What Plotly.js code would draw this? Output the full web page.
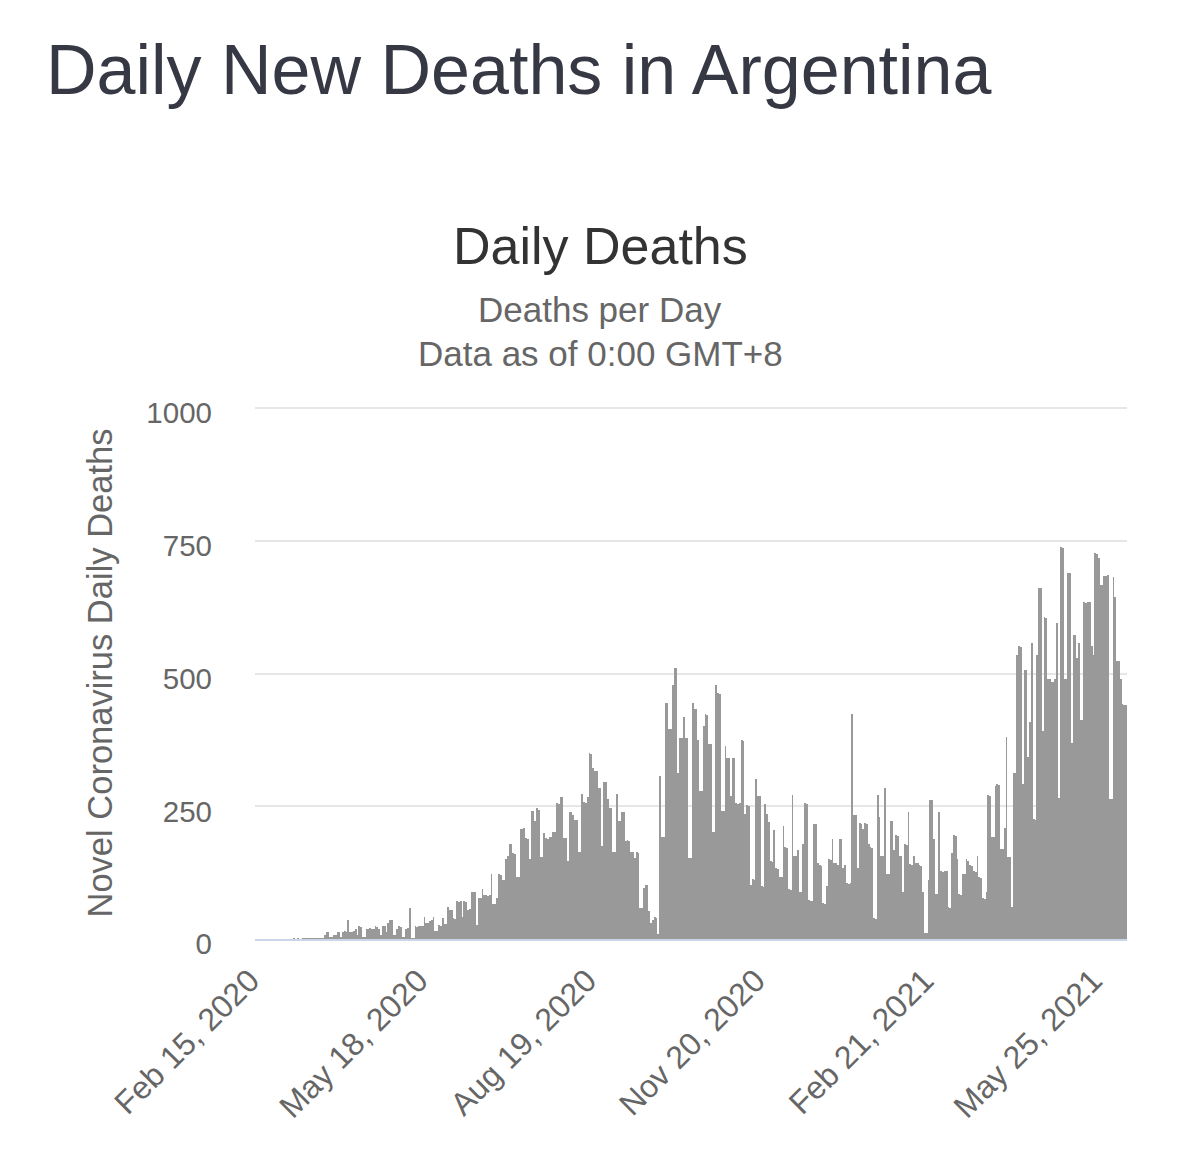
<!DOCTYPE html>
<html>
<head>
<meta charset="utf-8">
<script src="https://cdn.plot.ly/plotly-3.0.1.min.js"></script>
<style>
  html, body { margin: 0; padding: 0; background: #ffffff; }
  #chart { width: 1200px; height: 1153px; }
</style>
</head>
<body>
<div id="chart"></div>
<script>
// ---- Data (daily new deaths) ----
var startDate = "2020-02-15";

var deaths_2020_02_15_to_04_14 = [
  0,0,0,0,0,0,0,0,0,0,0,0,0,0,0,0,0,0,0,0,0,
  1,0,1,0,0,1,1,2,1,2,2,1,2,2,1,2,2,
  7,14,13,3,3,8,8,14,13,4,14,15,13,36,14,13,15,18,8,24,23,3
];
var deaths_2020_04_15_to_06_13 = [
  3,19,18,20,19,19,24,23,19,8,24,25,14,30,36,35,8,8,18,24,23,4,4,19,20,58,1,1,
  24,23,25,24,24,41,31,30,34,36,41,15,16,26,25,39,29,28,60,55,54,39,38,71,70,72,
  42,71,70,55,56,89
];
var deaths_2020_06_14_to_08_12 = [
  89,88,26,78,77,94,82,83,81,82,122,66,65,78,122,121,112,111,151,157,179,178,
  162,161,117,116,208,207,209,190,189,151,242,241,222,247,243,155,154,200,190,189,
  193,192,202,201,256,255,268,267,191,190,146,240,239,234,225,224,164,163
];
var deaths_2020_08_13_to_10_11 = [
  274,258,257,268,350,349,323,317,316,285,284,175,296,295,263,247,246,164,163,274,
  223,222,240,239,185,186,184,164,163,153,163,162,59,58,97,102,101,53,31,35,42,40,
  10,307,193,192,445,444,396,395,479,511,510,312,379,378,419,379,378,153
];
var deaths_2020_10_12_to_12_10 = [
  153,445,434,433,374,279,278,401,423,422,368,367,202,201,479,463,462,242,241,363,
  341,340,269,341,340,256,255,257,374,373,235,252,251,102,113,112,301,269,270,99,98,
  254,235,220,146,145,206,133,132,117,116,212,173,172,94,93,272,157,156,167
];
var deaths_2020_12_11_to_2021_02_08 = [
  89,88,178,256,255,73,72,72,217,216,144,139,138,67,66,100,150,149,189,144,143,139,
  189,188,133,139,105,104,106,424,234,233,133,218,217,207,218,217,179,173,172,39,38,
  272,230,157,156,284,123,122,223,222,167,195,194,157,156,89,178,177
];
var deaths_2021_02_09_to_04_09 = [
  239,141,140,156,144,143,139,138,89,11,12,111,262,261,189,85,84,239,128,127,129,128,
  60,59,162,195,194,150,84,83,123,122,150,146,139,138,128,127,156,117,115,77,76,89,
  271,270,193,192,288,292,291,170,169,210,380,155,154,60,313,312
];
var deaths_2021_04_10_to_06_09 = [
  535,551,550,292,507,506,342,408,557,226,225,535,662,661,391,606,605,490,489,485,
  484,489,595,266,738,737,490,489,690,689,370,573,572,529,557,413,412,634,633,635,
  634,551,535,727,726,717,667,666,684,683,685,264,263,682,645,524,523,489,442,441,440
];

var tickDates  = ["2020-02-15", "2020-05-18", "2020-08-19", "2020-11-20", "2021-02-21", "2021-05-25"];
var tickLabels = ["Feb 15, 2020", "May 18, 2020", "Aug 19, 2020", "Nov 20, 2020", "Feb 21, 2021", "May 25, 2021"];
var yTicks = [0, 250, 500, 750, 1000];

// ---- Build series ----
var deaths = [].concat(
  deaths_2020_02_15_to_04_14, deaths_2020_04_15_to_06_13, deaths_2020_06_14_to_08_12,
  deaths_2020_08_13_to_10_11, deaths_2020_10_12_to_12_10, deaths_2020_12_11_to_2021_02_08,
  deaths_2021_02_09_to_04_09, deaths_2021_04_10_to_06_09
);

function dayString(base, n) {
  var p = base.split("-");
  var d = new Date(Date.UTC(+p[0], +p[1] - 1, +p[2] + n));
  var mm = String(d.getUTCMonth() + 1).padStart(2, "0");
  var dd = String(d.getUTCDate()).padStart(2, "0");
  return d.getUTCFullYear() + "-" + mm + "-" + dd;
}
var dates = deaths.map(function (_, i) { return dayString(startDate, i); });

var first = new Date(dates[0] + "T00:00:00Z").getTime() - 12 * 3600 * 1000;
var last = new Date(dates[dates.length - 1] + "T00:00:00Z").getTime() + 12 * 3600 * 1000;

var font = '"Liberation Sans", Arial, Helvetica, sans-serif';

var trace = {
  type: "bar",
  x: dates,
  y: deaths,
  marker: { color: "#999999", line: { width: 0 } },
  name: "Daily Deaths",
  hoverinfo: "x+y"
};

// paper coordinate helpers (plot area: x 255..1127, y 408..939)
function px(xPix) { return (xPix - 255) / 872; }
function py(yPix) { return (939 - yPix) / 531; }

var layout = {
  width: 1200,
  height: 1153,
  margin: { l: 255, r: 73, t: 407, b: 214 },
  paper_bgcolor: "#ffffff",
  plot_bgcolor: "#ffffff",
  showlegend: false,
  bargap: 0,
  font: { family: font, color: "#666666" },
  title: {
    text: "Daily New Deaths in Argentina",
    xref: "container", yref: "container",
    x: 46 / 1200, xanchor: "left",
    y: 1 - 69 / 1153, yanchor: "middle",
    font: { family: font, size: 70, color: "#363844" }
  },
  xaxis: {
    type: "date",
    range: [first, last],
    tickmode: "array",
    tickvals: tickDates,
    ticktext: tickLabels,
    tickangle: -45,
    tickfont: { family: font, size: 32, color: "#666666" },
    showgrid: false,
    zeroline: false,
    showline: true,
    linecolor: "#ccd6eb",
    linewidth: 2,
    ticks: "",
    ticklabelstandoff: 8,
    ticklabelshift: -6,
    fixedrange: true
  },
  yaxis: {
    range: [0, 1002],
    tickmode: "array",
    tickvals: yTicks,
    ticktext: yTicks.map(String),
    tickfont: { family: font, size: 29.5, color: "#666666" },
    showgrid: true,
    gridcolor: "#e6e6e6",
    gridwidth: 2,
    zeroline: false,
    showline: false,
    ticks: "",
    ticklabelstandoff: 42,
    ticklabelshift: 5,
    fixedrange: true
  },
  annotations: [
    {
      text: "Daily Deaths", xref: "paper", yref: "paper",
      x: px(600), y: py(247), xanchor: "center", yanchor: "middle",
      showarrow: false, font: { family: font, size: 52, color: "#333333" }
    },
    {
      text: "Deaths per Day", xref: "paper", yref: "paper",
      x: px(600), y: py(311), xanchor: "center", yanchor: "middle",
      showarrow: false, font: { family: font, size: 35, color: "#666666" }
    },
    {
      text: "Data as of 0:00 GMT+8", xref: "paper", yref: "paper",
      x: px(600), y: py(355), xanchor: "center", yanchor: "middle",
      showarrow: false, font: { family: font, size: 35, color: "#666666" }
    },
    {
      text: "Novel Coronavirus Daily Deaths", xref: "paper", yref: "paper",
      x: px(100), y: py(674), xanchor: "center", yanchor: "middle",
      textangle: -90,
      showarrow: false, font: { family: font, size: 34.5, color: "#666666" }
    }
  ]
};

Plotly.newPlot("chart", [trace], layout, { displayModeBar: false, staticPlot: true });
</script>
</body>
</html>
